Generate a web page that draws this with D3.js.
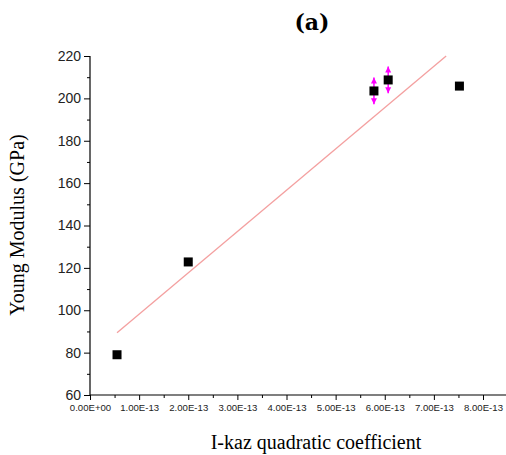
<!DOCTYPE html>
<html><head><meta charset="utf-8">
<script src="https://cdn.jsdelivr.net/npm/d3@7"></script>
<style>body{margin:0;background:#fff}</style>
</head><body>
<svg id="c" width="506" height="455"></svg>
<script>
// data
const xValues = [0.55e-13, 2.0e-13, 5.78e-13, 6.07e-13, 7.52e-13];
const yValues = [79, 122.8, 203.5, 208.7, 205.8];
const yErrors = [0, 0, 6.3, 6.3, 0];
const fitX = [0.55e-13, 7.25e-13];
const fitSlope = 19.5e13;   // GPa per unit x
const fitIntercept = 78.6;
const xTicks = [0, 1e-13, 2e-13, 3e-13, 4e-13, 5e-13, 6e-13, 7e-13, 8e-13];
const yTicks = [60, 80, 100, 120, 140, 160, 180, 200, 220];
const xMinor = [0.5e-13,1.5e-13,2.5e-13,3.5e-13,4.5e-13,5.5e-13,6.5e-13,7.5e-13];
const yMinor = [70, 90, 110, 130, 150, 170, 190, 210];

const svg = d3.select('#c');
const x = d3.scaleLinear().domain([0, 8e-13]).range([90, 483]);
const y = d3.scaleLinear().domain([60, 220]).range([395, 56]);

function fmtX(v){
  if (v === 0) return '0.00E+00';
  const e = Math.floor(Math.log10(v) + 1e-9);
  const m = v / Math.pow(10, e);
  return m.toFixed(2) + 'E' + (e < 0 ? '-' : '+') + String(Math.abs(e)).padStart(2,'0');
}

// axes lines
svg.append('line').attr('x1', 90).attr('x2', 506).attr('y1', 395).attr('y2', 395)
  .attr('stroke', '#000').attr('stroke-width', 1.2);
svg.append('line').attr('x1', 90).attr('x2', 90).attr('y1', y(220)).attr('y2', 395)
  .attr('stroke', '#000').attr('stroke-width', 1.2);

const xAxis = svg.append('g').attr('transform', 'translate(0,395)')
  .call(d3.axisBottom(x).tickValues(xTicks).tickFormat(fmtX).tickSize(5).tickPadding(4));
xAxis.select('.domain').remove();
xAxis.selectAll('text').attr('font-family', 'Liberation Sans, Arial, sans-serif').attr('font-size', 9.6).attr('fill', '#222');
const xAxisMin = svg.append('g').attr('transform', 'translate(0,395)')
  .call(d3.axisBottom(x).tickValues(xMinor).tickFormat('').tickSize(3));
xAxisMin.select('.domain').remove();

const yAxis = svg.append('g').attr('transform', 'translate(90,0)')
  .call(d3.axisLeft(y).tickValues(yTicks).tickSize(6).tickPadding(3));
yAxis.select('.domain').remove();
yAxis.selectAll('text').attr('font-family', 'Liberation Sans, Arial, sans-serif').attr('font-size', 14).attr('fill', '#222');
const yAxisMin = svg.append('g').attr('transform', 'translate(90,0)')
  .call(d3.axisLeft(y).tickValues(yMinor).tickFormat('').tickSize(3));
yAxisMin.select('.domain').remove();
svg.selectAll('.tick line').attr('stroke', '#000');

// fit line
svg.append('line')
  .attr('x1', x(fitX[0])).attr('y1', y(fitIntercept + fitSlope * fitX[0]))
  .attr('x2', x(fitX[1])).attr('y2', y(fitIntercept + fitSlope * fitX[1]))
  .attr('stroke', '#f4a0a0').attr('stroke-width', 1.3);

// error bars
const pts = xValues.map((v, i) => ({x: v, y: yValues[i], e: yErrors[i]}));
const eb = svg.append('g');
pts.filter(d => d.e > 0).forEach(d => {
  const cx = x(d.x), top = y(d.y + d.e), bot = y(d.y - d.e);
  eb.append('line').attr('x1', cx).attr('x2', cx).attr('y1', top).attr('y2', bot)
    .attr('stroke', '#ff00ff').attr('stroke-width', 1.5);
  eb.append('path').attr('d', `M${cx},${top} L${cx-3},${top+6} L${cx+3},${top+6}Z`).attr('fill', '#ff00ff');
  eb.append('path').attr('d', `M${cx},${bot} L${cx-3},${bot-6} L${cx+3},${bot-6}Z`).attr('fill', '#ff00ff');
});

// points
svg.append('g').selectAll('rect').data(pts).join('rect')
  .attr('x', d => x(d.x) - 4.5).attr('y', d => y(d.y) - 4.5)
  .attr('width', 9).attr('height', 9).attr('fill', '#000');

// titles
svg.append('text').attr('x', 312).attr('y', 30).attr('text-anchor', 'middle')
  .attr('font-family', 'DejaVu Serif, serif').attr('font-weight', 'bold').attr('font-size', 22).text('(a)');
svg.append('text').attr('x', 316).attr('y', 449).attr('text-anchor', 'middle')
  .attr('font-family', 'Liberation Serif, Times New Roman, serif').attr('font-size', 20).text('I-kaz quadratic coefficient');
svg.append('text').attr('transform', 'translate(24,225) rotate(-90)').attr('text-anchor', 'middle')
  .attr('font-family', 'Liberation Serif, Times New Roman, serif').attr('font-size', 20).text('Young Modulus (GPa)');
</script>
</body></html>
